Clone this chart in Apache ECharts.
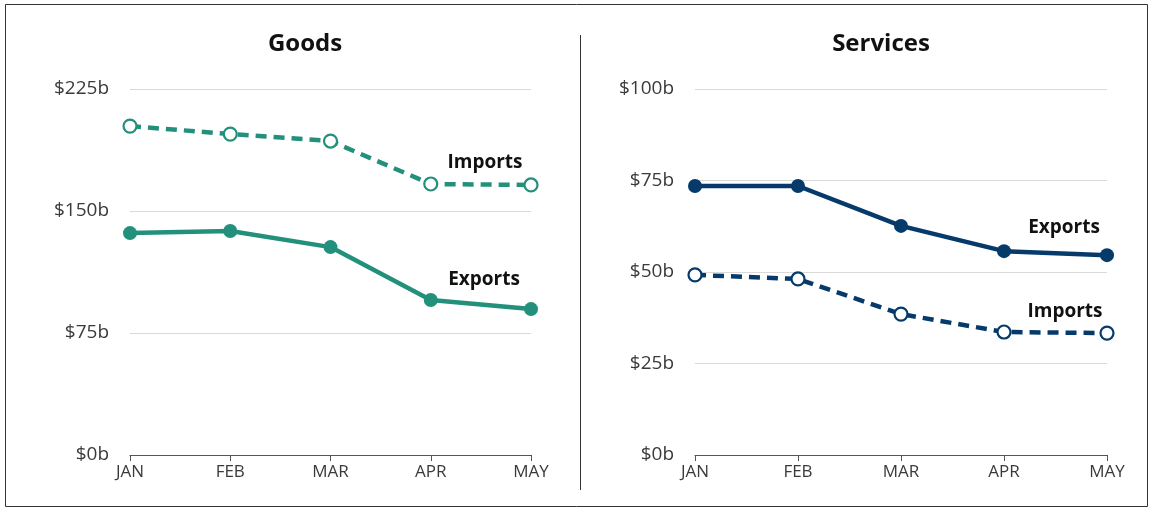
<!DOCTYPE html>
<html><head><meta charset="utf-8">
<script src="https://cdn.jsdelivr.net/npm/echarts@6/dist/echarts.min.js"></script>
<style>html,body{margin:0;padding:0;background:#fff}#c{width:1153px;height:510px}</style>
</head><body><div id="c"></div>
<script>
const months = ['JAN','FEB','MAR','APR','MAY'];
const goodsImports = [202.2, 197.3, 193.0, 166.6, 166.0];
const goodsExports = [136.4, 137.7, 127.8, 95.3, 89.7];
const servicesExports = [73.5, 73.5, 62.6, 55.7, 54.6];
const servicesImports = [49.2, 48.1, 38.5, 33.6, 33.3];
const goodsTicks = {min: 0, max: 225, interval: 75};
const servicesTicks = {min: 0, max: 100, interval: 25};

const teal = '#23907B', navy = '#053A6B';
const font = '"Open Sans", "Noto Sans", sans-serif';
const chart = echarts.init(document.getElementById('c'));

function lastLabel(text, off) {
  return {show: true, position: 'inside', offset: off, formatter: (p) => p.dataIndex === 4 ? text : '',
    fontFamily: font, fontWeight: 'bold', fontSize: 19, color: '#111'};
}
function xAx(i) {
  return {type: 'category', gridIndex: i, data: months, boundaryGap: false,
    axisLine: {lineStyle: {color: '#555', width: 1.2}},
    axisTick: {show: true, length: 6, lineStyle: {color: '#555'}},
    axisLabel: {color: '#3a3a3a', fontFamily: font, fontSize: 17, margin: 9}};
}
function yAx(i, t) {
  return {type: 'value', gridIndex: i, min: t.min, max: t.max, interval: t.interval,
    axisLine: {show: false}, axisTick: {show: false},
    splitLine: {lineStyle: {color: '#d9d9d9', width: 1}},
    axisLabel: {color: '#3a3a3a', fontFamily: font, fontSize: 19, margin: 21, formatter: v => '$' + v + 'b'}};
}
function solid(name, data, color, xi, text, off) {
  return {name, type: 'line', xAxisIndex: xi, yAxisIndex: xi, data,
    lineStyle: {color, width: 4.5}, itemStyle: {color, borderWidth: 0},
    symbol: 'circle', symbolSize: 14, label: lastLabel(text, off), z: 3};
}
function dashed(name, data, color, xi, text, off) {
  return {name, type: 'line', xAxisIndex: xi, yAxisIndex: xi, data,
    lineStyle: {color, width: 4.5, type: [11, 7]}, itemStyle: {color: '#fff', borderColor: color, borderWidth: 2.2},
    symbol: 'circle', symbolSize: 13, label: lastLabel(text, off), z: 3};
}

chart.setOption({
  animation: false,
  title: [
    {text: 'Goods', left: 300, top: 27, textAlign: 'center', textStyle: {fontFamily: font, fontSize: 24, fontWeight: 'bold', color: '#111'}},
    {text: 'Services', left: 876, top: 27, textAlign: 'center', textStyle: {fontFamily: font, fontSize: 24, fontWeight: 'bold', color: '#111'}}
  ],
  grid: [
    {left: 130, right: 622, top: 89, bottom: 55},
    {left: 695, right: 46, top: 89, bottom: 55}
  ],
  xAxis: [xAx(0), xAx(1)],
  yAxis: [yAx(0, goodsTicks), yAx(1, servicesTicks)],
  series: [
    dashed('Imports', goodsImports, teal, 0, 'Imports', [-46, -22]),
    solid('Exports', goodsExports, teal, 0, 'Exports', [-47, -29]),
    solid('Exports', servicesExports, navy, 1, 'Exports', [-43, -28]),
    dashed('Imports', servicesImports, navy, 1, 'Imports', [-42, -22])
  ],
  graphic: [
    {type: 'rect', shape: {x: 5.5, y: 4.5, width: 1142, height: 502}, style: {fill: 'none', stroke: '#333', lineWidth: 1}, silent: true},
    {type: 'line', shape: {x1: 580.5, y1: 35, x2: 580.5, y2: 490}, style: {stroke: '#333', lineWidth: 1}, silent: true}
  ]
});
</script></body></html>
